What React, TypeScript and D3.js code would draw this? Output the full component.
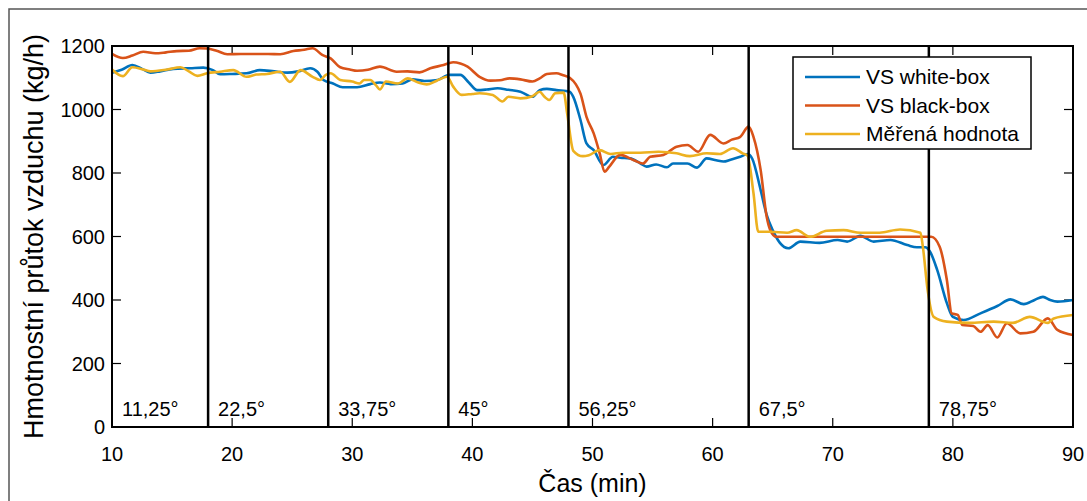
import React, { useRef, useEffect } from 'react';
import * as d3 from 'd3';

// [time (min), mass air flow (kg/h)]
const whiteBox: [number, number][] = [
  [10, 1116], [10.8, 1125], [11.7, 1140], [12.5, 1128], [13.2, 1116], [14, 1120], [15.1, 1128],
  [16.5, 1130], [17.6, 1132], [18.4, 1124], [19, 1111], [20, 1112], [21.2, 1114], [22.3, 1124],
  [23.5, 1120], [24.6, 1116], [25.5, 1120], [26.5, 1130], [27.1, 1119], [27.6, 1093], [28.4, 1082],
  [29.2, 1070], [30.4, 1070], [31.5, 1080], [32.3, 1085], [33.2, 1080], [34.2, 1082], [35, 1095],
  [36, 1090], [37.1, 1093], [38.1, 1109], [39, 1109], [39.7, 1085], [40.4, 1061], [41.2, 1063],
  [42.1, 1067], [43, 1062], [44, 1056], [45, 1040], [45.6, 1061], [46.2, 1065], [47, 1061],
  [48.1, 1056], [48.4, 1040], [49, 967], [49.5, 893], [50.1, 872], [50.9, 825], [51.7, 851],
  [52.3, 848], [53.1, 846], [54, 830], [54.5, 820], [55.3, 827], [56.2, 818], [56.7, 830],
  [57.9, 830], [58.7, 817], [59.5, 846], [60.3, 840], [60.9, 836], [61.5, 842], [62.3, 851],
  [62.9, 860], [63.3, 845], [64, 746], [64.5, 668], [65, 620], [65.6, 580], [66.3, 563],
  [67.3, 584], [68.9, 580], [70.4, 589], [71.2, 584], [72.3, 602], [73.4, 584], [74.8, 589],
  [76.2, 573], [77, 566], [77.7, 566], [78.1, 552], [78.7, 494], [79.5, 390], [80, 347],
  [80.9, 337], [82.3, 358], [83.7, 381], [84.8, 402], [85.9, 387], [86.8, 400], [87.5, 410],
  [88.1, 400], [88.7, 395], [90, 400],
];

const blackBox: [number, number][] = [
  [10, 1175], [10.9, 1162], [11.7, 1170], [12.6, 1182], [13.6, 1177], [14.5, 1180], [15.4, 1184],
  [16.4, 1185], [17.3, 1193], [17.9, 1192], [18.7, 1185], [19.6, 1174], [20.7, 1175], [22, 1175],
  [23, 1175], [24, 1174], [25.1, 1184], [26, 1188], [26.7, 1193], [27.5, 1172], [28.2, 1161],
  [29, 1133], [29.8, 1126], [30.4, 1122], [31.3, 1125], [32.3, 1135], [33.7, 1119], [34.6, 1120],
  [35.6, 1117], [36.5, 1130], [37.6, 1140], [38.4, 1149], [39, 1145], [39.6, 1135], [40.6, 1103],
  [41.5, 1091], [42.3, 1092], [43.1, 1098], [44, 1095], [45, 1088], [45.6, 1098], [46.2, 1112],
  [47, 1114], [47.5, 1109], [48.1, 1100], [48.6, 1080], [49, 1050], [49.5, 977], [50.1, 925],
  [50.6, 862], [51, 804], [51.4, 820], [52.3, 857], [53.4, 841], [54.2, 830], [54.8, 851],
  [55.9, 857], [57, 883], [57.9, 888], [58.8, 867], [59.8, 920], [60.9, 893], [61.6, 905],
  [62.3, 914], [63, 946], [63.4, 914], [64, 809], [64.5, 662], [64.8, 620], [65.3, 599], [70, 599],
  [75, 599], [78.2, 599], [78.9, 568], [79.5, 463], [79.9, 358], [80.4, 353], [80.8, 321],
  [81.7, 318], [82.3, 300], [82.9, 321], [83.7, 282], [84.5, 327], [85.6, 295], [86.7, 300],
  [87.9, 342], [88.7, 306], [90, 290],
];

const measured: [number, number][] = [
  [10, 1126], [10.9, 1105], [11.7, 1133], [12.6, 1126], [13.2, 1120], [14.6, 1126], [15.7, 1133],
  [16.4, 1120], [17.1, 1106], [17.9, 1114], [19, 1119], [20.1, 1124], [21.2, 1103], [22, 1110],
  [22.9, 1112], [24, 1119], [24.8, 1087], [25.7, 1124], [26.7, 1103], [27.3, 1093], [27.8, 1109],
  [28.2, 1114], [29, 1093], [30, 1088], [30.6, 1082], [31, 1093], [31.5, 1093], [32, 1075],
  [32.3, 1063], [32.8, 1088], [33.8, 1082], [34.6, 1098], [35.5, 1085], [36.2, 1079], [37, 1090],
  [37.9, 1103], [38.4, 1072], [39.1, 1046], [40, 1049], [40.6, 1051], [41.7, 1046], [42.5, 1025],
  [43, 1040], [44, 1035], [45, 1042], [45.6, 1056], [46, 1040], [46.4, 1030], [46.9, 1051],
  [47.6, 1053], [47.9, 985], [48.4, 870], [49.2, 853], [49.7, 856], [50.6, 872], [51.5, 860],
  [52.5, 864], [54, 864], [55.5, 867], [57, 862], [58.1, 853], [59.5, 862], [60.6, 860],
  [61.7, 878], [62.5, 862], [62.9, 855], [63.4, 737], [63.8, 615], [64.8, 615], [66.2, 612],
  [67, 620], [68.1, 599], [69.5, 618], [70.9, 620], [72.3, 612], [73.9, 612], [75.6, 622],
  [77.3, 612], [77.5, 568], [77.9, 431], [78.4, 347], [79.5, 332], [81.4, 328], [83.4, 332],
  [85, 328], [86.4, 347], [87.9, 328], [88.4, 342], [90, 353],
];

const seriesNames = ['VS white-box', 'VS black-box', 'Měřená hodnota'];
const seriesColors = ['#0072BD', '#D95319', '#EDB120'];

const changeTimes = [18, 28, 38, 48, 63, 78];
const angleLabels = ['11,25°', '22,5°', '33,75°', '45°', '56,25°', '67,5°', '78,75°'];
const xTicks = [10, 20, 30, 40, 50, 60, 70, 80, 90];
const yTicks = [0, 200, 400, 600, 800, 1000, 1200];

const App = () => {
  const svgRef = useRef<SVGSVGElement>(null);

  useEffect(() => {
    const svg = d3.select(svgRef.current);
    svg.selectAll('*').remove();

    const width = 1087;
    const height = 501;
    const margin = { top: 46, right: 14, bottom: 74, left: 112 };
    const font = 'Liberation Sans, Arial, sans-serif';

    // figure frame
    svg.append('rect')
       .attr('x', 9).attr('y', 9)
       .attr('width', 1200).attr('height', 600)
       .attr('fill', 'white')
       .attr('stroke', '#555')
       .attr('stroke-width', 1.5);

    const x = d3.scaleLinear()
                .domain([10, 90])
                .range([margin.left, width - margin.right]);

    const y = d3.scaleLinear()
                .domain([0, 1200])
                .range([height - margin.bottom, margin.top]);

    const [x0, x1] = x.range();
    const [y0, y1] = y.range();

    // ticks (inward, on all four sides)
    const ticks = svg.append('g').attr('stroke', '#000').attr('stroke-width', 1.2);
    xTicks.forEach(t => {
      ticks.append('line').attr('x1', x(t)).attr('x2', x(t)).attr('y1', y0).attr('y2', y0 - 9);
      ticks.append('line').attr('x1', x(t)).attr('x2', x(t)).attr('y1', y1).attr('y2', y1 + 9);
    });
    yTicks.forEach(t => {
      ticks.append('line').attr('x1', x0).attr('x2', x0 + 9).attr('y1', y(t)).attr('y2', y(t));
      ticks.append('line').attr('x1', x1).attr('x2', x1 - 9).attr('y1', y(t)).attr('y2', y(t));
    });

    // tick labels
    svg.append('g')
       .selectAll('text')
       .data(xTicks)
       .join('text')
       .attr('x', d => x(d))
       .attr('y', y0 + 34)
       .attr('text-anchor', 'middle')
       .attr('font-family', font)
       .attr('font-size', 20)
       .text(d => d);

    svg.append('g')
       .selectAll('text')
       .data(yTicks)
       .join('text')
       .attr('x', x0 - 7)
       .attr('y', d => y(d))
       .attr('dy', '0.35em')
       .attr('text-anchor', 'end')
       .attr('font-family', font)
       .attr('font-size', 20)
       .text(d => d);

    // data lines
    const line = d3.line<[number, number]>()
                   .x(d => x(d[0]))
                   .y(d => y(d[1]))
                   .curve(d3.curveMonotoneX);

    [whiteBox, blackBox, measured].forEach((s, i) => {
      svg.append('path')
         .datum(s)
         .attr('fill', 'none')
         .attr('stroke', seriesColors[i])
         .attr('stroke-width', 2.6)
         .attr('stroke-linejoin', 'round')
         .attr('d', line);
    });

    // angle change markers
    svg.append('g')
       .selectAll('line')
       .data(changeTimes)
       .join('line')
       .attr('x1', d => x(d)).attr('x2', d => x(d))
       .attr('y1', y1).attr('y2', y0)
       .attr('stroke', '#000')
       .attr('stroke-width', 2.5);

    const starts = [10, ...changeTimes];
    svg.append('g')
       .selectAll('text')
       .data(angleLabels)
       .join('text')
       .attr('x', (d, i) => x(starts[i]) + 10)
       .attr('y', y0 - 11)
       .attr('font-family', font)
       .attr('font-size', 20)
       .text(d => d);

    // axes box
    svg.append('rect')
       .attr('x', x0).attr('y', y1)
       .attr('width', x1 - x0).attr('height', y0 - y1)
       .attr('fill', 'none')
       .attr('stroke', '#000')
       .attr('stroke-width', 2);

    // axis titles
    svg.append('text')
       .attr('x', (x0 + x1) / 2)
       .attr('y', 492)
       .attr('text-anchor', 'middle')
       .attr('font-family', font)
       .attr('font-size', 25)
       .text('Čas (min)');

    svg.append('text')
       .attr('transform', `translate(43, ${(y0 + y1) / 2}) rotate(-90)`)
       .attr('text-anchor', 'middle')
       .attr('font-family', font)
       .attr('font-size', 27)
       .text('Hmotnostní průtok vzduchu (kg/h)');

    // legend
    const lg = svg.append('g');
    lg.append('rect')
      .attr('x', 793).attr('y', 57)
      .attr('width', 238).attr('height', 92)
      .attr('fill', 'white')
      .attr('stroke', '#000')
      .attr('stroke-width', 1.5);
    seriesNames.forEach((name, i) => {
      const ly = 77 + i * 28.5;
      lg.append('line')
        .attr('x1', 805).attr('x2', 860)
        .attr('y1', ly).attr('y2', ly)
        .attr('stroke', seriesColors[i])
        .attr('stroke-width', 2.6);
      lg.append('text')
        .attr('x', 866).attr('y', ly)
        .attr('dy', '0.35em')
        .attr('font-family', font)
        .attr('font-size', 21)
        .text(name);
    });
  }, []);

  return (
    <svg ref={svgRef} width={1087} height={501}
         style={{ position: 'absolute', left: 0, top: 0, display: 'block' }} />
  );
};

export default App;
